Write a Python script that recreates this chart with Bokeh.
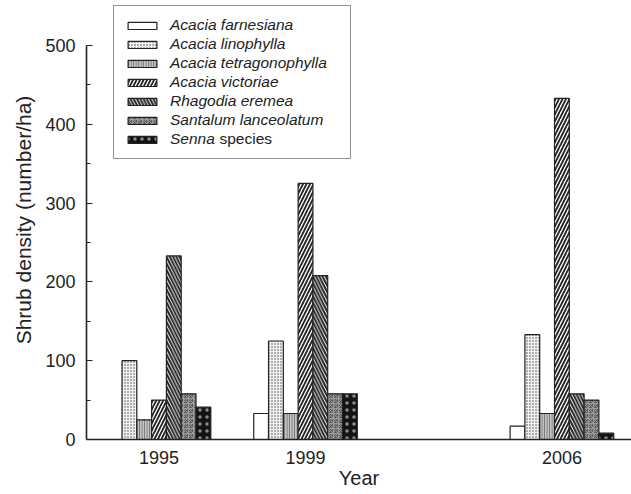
from bokeh.plotting import figure
from bokeh.models import Range1d, FixedTicker, Legend, LegendItem, Label, ColumnDataSource
from bokeh.transform import dodge
from bokeh.embed import file_html
from bokeh.resources import INLINE

# ---- data ----
years = [1995, 1999, 2006]
species = ["Acacia farnesiana", "Acacia linophylla", "Acacia tetragonophylla",
           "Acacia victoriae", "Rhagodia eremea", "Santalum lanceolatum", "Senna"]
farnesiana = [0, 33, 17]
linophylla = [100, 125, 133]
tetragonophylla = [25, 33, 33]
victoriae = [50, 325, 433]
rhagodia = [233, 208, 58]
santalum = [58, 58, 50]
senna = [41, 58, 8]
series = [farnesiana, linophylla, tetragonophylla, victoriae, rhagodia, santalum, senna]
y_ticks = [0, 100, 200, 300, 400, 500]
y_minor = [50, 150, 250, 350, 450]

# ---- styles ----
styles = [
    dict(fill_color="white"),
    dict(fill_color="#f2f2f2", hatch_pattern="dot", hatch_color="#444444", hatch_scale=3, hatch_weight=0.6),
    dict(fill_color="#c4c4c4", hatch_pattern="vertical_line", hatch_color="#6a6a6a", hatch_scale=2.5, hatch_weight=1),
    dict(fill_color="white", hatch_pattern="right_diagonal_line", hatch_color="#222222", hatch_scale=7, hatch_weight=1.8),
    dict(fill_color="white", hatch_pattern="left_diagonal_line", hatch_color="#222222", hatch_scale=6.5, hatch_weight=2),
    dict(fill_color="#5c5c5c", hatch_pattern="criss_cross", hatch_color="#9a9a9a", hatch_scale=5, hatch_weight=1),
    dict(fill_color="#141414", hatch_pattern="dot", hatch_color="#aaaaaa", hatch_scale=7, hatch_weight=0.4, hatch_alpha=0.8),
]

FONT = "Liberation Sans"
TXT = "#222222"

# frame spans the full height above the x axis so the legend (which sits above
# the 500 tick in the original) is not clipped; the y axis is bounded to 0..500
p = figure(width=631, height=494, output_backend="svg", toolbar_location=None,
           x_range=Range1d(1993.02, 2007.9), y_range=Range1d(0, 557.1),
           min_border_left=86, min_border_right=0, min_border_top=0, min_border_bottom=55)
p.outline_line_color = None
p.grid.grid_line_color = None
p.background_fill_color = "white"

src = ColumnDataSource(dict(year=years, **{f"s{i}": s for i, s in enumerate(series)}))
bw = 0.404
renderers = []
for i, st in enumerate(styles):
    r = p.vbar(x=dodge("year", (i - 3) * bw, range=p.x_range), top=f"s{i}", width=bw, bottom=0,
               source=src, line_color="#222222", line_width=1.2, **st)
    renderers.append(r)

# axes
xa = p.xaxis[0]
xa.ticker = FixedTicker(ticks=years)
xa.major_tick_line_color = None
xa.minor_tick_line_color = None
xa.major_tick_in = 0
xa.major_tick_out = 0
xa.axis_line_color = "#222222"
xa.axis_line_width = 1.6
xa.major_label_text_font = FONT
xa.major_label_text_font_size = "18px"
xa.major_label_text_color = TXT
xa.major_label_standoff = 11
xa.axis_label = "Year"
xa.axis_label_text_font = FONT
xa.axis_label_text_font_size = "20px"
xa.axis_label_text_font_style = "normal"
xa.axis_label_text_color = TXT
xa.axis_label_standoff = 0

ya = p.yaxis[0]
ya.ticker = FixedTicker(ticks=y_ticks, minor_ticks=y_minor)
ya.bounds = (0, 500)
ya.axis_line_color = "#222222"
ya.axis_line_width = 1.6
ya.major_tick_in = 6
ya.major_tick_out = 0
ya.minor_tick_in = 4
ya.minor_tick_out = 0
ya.major_tick_line_color = "#222222"
ya.major_tick_line_width = 1.2
ya.minor_tick_line_color = "#222222"
ya.minor_tick_line_width = 1.2
ya.major_label_text_font = FONT
ya.major_label_text_font_size = "18px"
ya.major_label_text_color = TXT
ya.major_label_standoff = 11
ya.axis_label = "Shrub density (number/ha)"
ya.axis_label_text_font = FONT
ya.axis_label_text_font_size = "21px"
ya.axis_label_text_font_style = "normal"
ya.axis_label_text_color = TXT
ya.axis_label_standoff = 7

legend = Legend(items=[LegendItem(label=s, renderers=[r]) for s, r in zip(species, renderers)],
                location=(27, 280))
legend.label_text_font = FONT
legend.label_text_font_style = "italic"
legend.label_text_font_size = "15.5px"
legend.label_text_color = TXT
legend.glyph_width = 36
legend.glyph_height = 9
legend.label_height = 18
legend.spacing = 1
legend.padding = 10
legend.margin = 0
legend.label_standoff = 10
legend.label_width = 170
legend.border_line_color = "#222222"
legend.border_line_width = 1.2
legend.background_fill_alpha = 0
p.add_layout(legend, "center")

# the non-italic part of the last legend entry
sp = Label(x=133, y=301, x_units="screen", y_units="screen", text="species",
           text_font=FONT, text_font_size="15.5px", text_color=TXT,
           text_baseline="middle", text_align="left")
p.add_layout(sp)

open("out.html", "w").write(file_html(p, INLINE))
